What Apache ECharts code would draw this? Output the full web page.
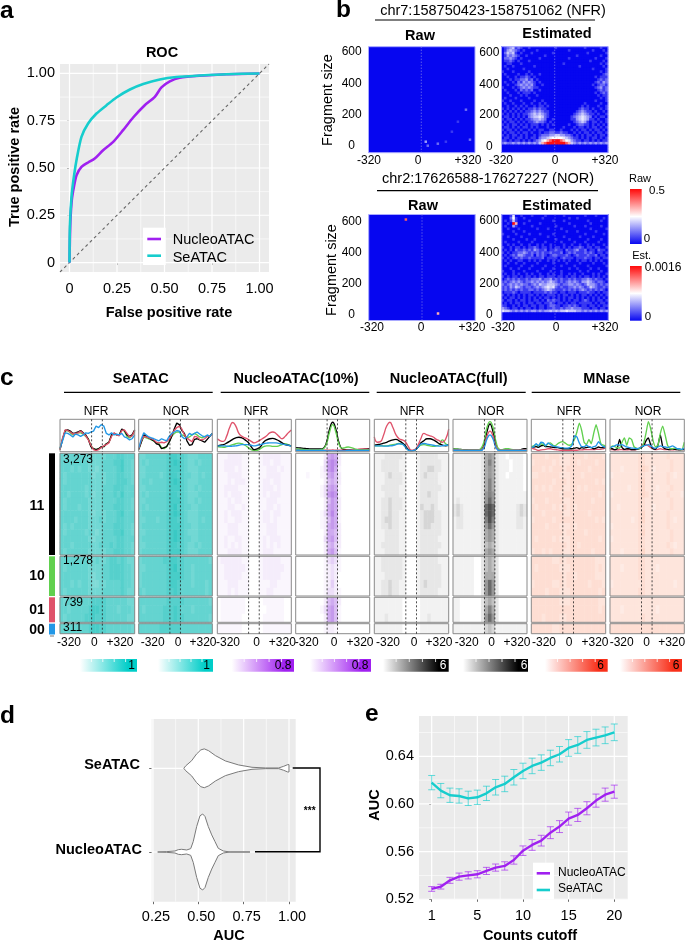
<!DOCTYPE html>
<html><head><meta charset="utf-8">
<style>html,body{margin:0;padding:0;background:#fff}#c{width:685px;height:942px}</style>
<script src="https://cdn.jsdelivr.net/npm/echarts@6/dist/echarts.min.js"></script>
</head><body><div id="c"></div>
<script>
// ---------- panel a: ROC
const rocNucleoX=[0,.002,.005,.012,.023,.037,.063,.098,.133,.177,.23,.282,.335,.396,.449,.484,.528,.58,.686,.826,1];
const rocNucleoY=[0,.12,.224,.33,.40,.462,.506,.529,.55,.594,.638,.70,.767,.832,.876,.926,.958,.977,.988,.996,1];
const rocSeatacX=[0,.002,.0105,.023,.04,.063,.098,.142,.195,.247,.318,.388,.475,.563,.686,.826,1];
const rocSeatacY=[0,.189,.347,.453,.559,.665,.735,.788,.832,.873,.915,.944,.968,.981,.989,.996,1];
const rocTicks=[0,.25,.5,.75,1];
// ---------- panel b: levels 0-9 (0 blue, 6 white, 9 red); rows run top to bottom
const estNfr=[
"0123412100100000000010000000000100000100","0134321010000100000000000100000000100010","0243410100010000000100000000000010000001",
"0132321001000000100000000000100000000100","0223210100000010000000000100000000010001","0112101000100000000000000000000001000010",
"0011000100000000000000010000000000000101","0100100000001000000000000000010000000010","0010000010000000000000000000000000100001",
"1000100000100000000000000000000000000101","0100001001010010000000000000000000000012","0010010112101000000000000000000000010111",
"0001011223120100000000000000000000001212","0100102132321010000000000000000000012132","0010012323231001000000000000000000101221",
"1000101232321100000000000000000000012312","0100010212120010000000000000000000001212","0010001011101000000000000000000000010121",
"0001000101000100000000000000000000001011","0100010000100000000000000000000000000101","1001000100001001000000000000000000010001",
"0100100010010010100000000000000100000100","0010010101001011010000000000001010001001","1010101010112121100000000000012110100101",
"0101010101123232110000000000123211010010","1010101011234343210000000001234321101001","0110101010234454210000000012345432010110",
"1011010101123343200100000011345431101001","0101101010112322101000000001234310110101","1010110101011101010100000100122110101010",
"0110101011010100010000010001011010110101","1011010100101011001100100010101101011010","0101101011010010112211211001010110101101",
"1010110101001012223344332210101011010110","0110101101011023345666654321101010110101","1101011010101235678999876532110110101011",
"2322323232323247899999998743232323232323","0000000000000000000000000000000000000000","0000000000000000000000000000000000000000","0000000000000000000000000000000000000000"];
const estNor=[
"0001500100010000100000010000000100010000","0002610010000001000000000100100000000010","0101410000100000000100010000000010000100",
"0010970010000010000000000100000001000000","0100310000010000000010000001000100000100","0010001000000100010000100000000001000001",
"0000100010000000000000001000100000010000","1000010000100010000100000000000100000010","0010000100000000010000010000010000100000",
"0000100001001000000010000100000010000100","0100001000010000100000100001000100001000","0010100100100101001000010010010010100010",
"1001011010112101101011010101121011011001","0101021121213211201121102112311201102110","1010112232121212112111201212111212101101",
"0101213321120212101221112101211121120110","1010121211211112011110121110111211011011","0101001100101010010101010100101101010100",
"0010010010000100000100001000010000100010","0100000100010000100000100001000010000001","0001001000100001000100000100100001001000",
"1000100010000100001000100000010010000100","0100101001010010010100100101001000101001","1010110101101011011101101011010110101010",
"0121212112122231223121211212112232121101","1212323212232323234321212323213343212210","2123232322123243344432122332321243321212",
"1213243212212323454521211223232124321121","1212121211221212343211121212123212121210","0111210111101111212110110111011121101011",
"1010101010110101011101011010101101010101","0101101010101010110101010110101010101010","1011010110101101021211010101101210101101",
"0101011010110110112101101011011111010110","1100101011011011012211011212101101101011","3210110101101011011211212232221110110110",
"5443232323233232334343445444332323232323","0000000000000000000000000000000000000000","0000000000000000000000000000000000000000","0000000000000000000000000000000000000000"];
const rawNfr=[[48,31,2],[44,37,1],[41,42,1],[50,46,2],[28,47,3],[29,49,2],[34,48,2],[38,47,1]];
const rawNor=[[18,2,8],[34,49,7]];
const fragTicks=[600,400,200,0];
const posTicks=["-320","0","+320"];
// ---------- panel c profiles
const prof1=[[5,40,70,72,68,60,62,65,70,62,55,40,15,8,5,8,15,15,25,30,55,60,55,55,75,70,55,50,55,72],
[5,45,72,70,65,58,60,62,68,60,52,38,20,5,2,5,12,18,22,28,50,62,55,52,70,72,60,48,52,70],
[8,42,68,70,62,55,60,62,62,58,50,42,18,8,5,8,15,15,25,30,52,60,56,55,72,68,50,45,52,68],
[10,35,62,60,55,48,58,55,50,55,62,60,65,68,85,80,90,85,60,55,62,55,58,55,60,48,45,38,42,55]];
const prof2=[[5,30,55,50,45,40,35,25,22,8,12,15,30,50,75,95,90,70,60,35,20,22,40,42,38,35,30,40,50,60],
[8,35,50,48,45,42,38,30,28,30,28,32,40,55,70,80,85,75,55,45,38,32,50,48,40,38,42,50,52,55],
[6,30,48,45,42,38,34,28,25,12,8,15,32,50,60,65,65,55,52,45,48,55,60,55,48,45,50,52,50,58],
[10,40,62,55,48,45,42,38,35,42,38,35,50,60,65,70,68,50,42,48,60,55,60,65,58,52,48,55,50,60]];
const prof3=[[18,20,22,27,33,40,45,47,45,38,30,15,5,8,15,30,38,42,43,40,35,28,22,20,18],
[42,35,33,50,80,97,85,60,50,45,40,33,28,32,38,45,52,62,65,60,50,42,50,62,72],
[15,14,13,15,18,22,25,27,25,20,12,5,2,3,8,15,18,18,16,16,18,22,25,22,16],
[18,18,18,17,16,17,18,20,22,22,22,20,18,20,22,25,27,28,28,28,26,24,22,20,16]];
const prof4=[[12,11,10,9,8,7,7,7,7,10,30,75,98,75,30,8,5,4,4,4,4,5,7,8,8],
[5,5,4,4,3,3,3,3,3,3,3,3,4,3,3,3,3,3,4,5,6,7,7,7,6],
[8,7,6,5,4,4,4,4,5,8,25,65,90,65,25,10,12,14,12,8,5,4,4,4,5],
[3,3,2,2,2,2,2,2,2,2,1,1,1,1,1,1,1,2,2,2,2,2,2,2,3]];
const prof5=[[20,22,24,27,30,35,38,40,35,28,18,5,1,3,12,28,35,42,42,38,32,25,20,18,22],
[48,30,32,55,85,98,80,55,42,38,32,15,3,5,18,42,60,55,52,48,40,35,30,40,75],
[18,18,18,18,18,20,22,24,26,24,15,4,1,3,12,20,22,20,18,16,18,22,38,25,18],
[18,18,18,17,17,18,19,22,25,24,14,3,1,3,12,24,26,24,22,20,18,17,18,20,20]];
const prof6=[[8,7,6,5,5,4,4,4,4,5,20,65,92,65,20,5,3,3,3,3,3,3,5,8,8],
[4,4,4,3,3,3,3,3,3,3,15,50,68,50,15,3,3,3,3,3,3,3,3,4,4],
[7,7,6,5,4,4,4,4,4,8,30,80,100,80,30,6,5,8,8,6,4,3,3,4,6],
[3,3,3,2,2,2,2,2,2,2,10,40,55,40,10,2,2,2,2,2,2,2,2,2,3]];
const prof7=[[14,14,15,13,18,20,15,15,14,13,12,12,10,8,8,8,8,8,10,12,8,12,10,12,14,12,8,10,14,12,12,14],
[10,8,5,2,4,5,6,8,8,6,5,4,3,2,2,2,2,2,3,3,4,4,5,5,5,5,5,6,6,6,8,10],
[15,18,22,18,25,22,18,25,28,20,18,25,30,32,28,22,20,25,40,65,95,70,30,22,40,25,60,90,60,25,20,18],
[12,15,25,18,30,28,18,28,22,18,15,14,12,12,10,10,12,20,52,48,28,15,15,20,15,12,15,18,32,22,15,12]];
const prof8=[[10,8,5,8,40,12,6,8,8,5,5,6,8,12,18,35,45,20,8,6,20,55,15,8,6,5,8,6,5,4,5,6],
[5,5,4,4,5,5,4,4,5,4,4,5,8,15,25,22,18,12,8,5,6,8,6,5,5,5,4,5,5,6,5,5],
[8,18,15,12,10,30,45,20,45,40,15,10,8,12,25,60,100,75,35,15,20,60,85,55,20,8,8,10,8,6,5,30],
[12,15,18,22,20,22,18,14,12,10,10,8,10,14,18,20,22,18,12,10,14,18,15,14,12,14,18,14,8,8,6,10]];
// ---------- panel c heat levels: 25 rows (11:16, 10:5, 01:3, 00:1) x 21 columns
const heat1=["656666665555566677666","666666665555666778665","666565665545666678665","656666666455566677665","656666666555566677765","666666656555666777666","665666656455666768666","656666665555666677665","656665665555666777665","666666665455566678666","666656665556566677666","656566665555666777665","656666656545666778665","666666665455666677666","666566666556667677665","656666665555566777665",
"666666665565567767655","656666665555667777665","666666665455667777665","666565665445566667665","656666665555666667655","656666666777766666655","665666667887766656665","656666677877766666655","666666667887766666665"];
const heat2=["556666667887765556666","565666667898765565666","556666667888765556666","556666567887766556566","566566667898765556666","556666667888765565666","565666667887765556666","556666667888765565666","565666667897766556666","566666667898765556666","556665667887765556566","566666667888766556666","556666667898765556666","566666667898766556666","556666667887765565666","566666667888765556666",
"566666677887766666665","556666667897766566666","566666667888766566666","566666667887666566656","656666667787666666656","666666667777766666665","656666677787666566666","666666677787766666665","666666777777666666666"];
const heat3=["111222211000122222111","112222211000122122111","112221211000112221211","111222211000112222111","111212221000122122111","112222111000122212111","112122211000121222111","111212211000112221111","111221121000112212111","112122211000122122111","112112211000122121111","111222111000112221111","111222111000112221111","112112211000121222111","112121211000121212111","111222211000122211111",
"122222211000122222111","112222221000122222211","112222211000122222111","111222111000111221111","111212111000112211111","011111110000011111100","011111110000001111100","011111100000011111100","111111100000011111111"];
const heat4=["000000002676200000000","000000003787200000000","000000013786100000000","000100012675200000000","000000002565200000000","000000013676100000000","000000013787100000000","000000002576200000000","000000002676200000000","000000013686100000000","000000012576100000000","000000012676200000000","000000002665200000000","000000003675200000000","000000002564200000000","000000002675100000000",
"000000001343100000000","000000001232100000000","000000001232000000000","000000001242000000000","000000001332100000000","000000002565200000000","000000013675100000000","000000002675100000000","000000001221000000000"];
const heat5=["111222221000122222111","112222211000122222211","112222211000122332211","111232221000123222111","111222221000122222111","112222211000122222211","111222211000122322111","112232221000122222111","112232221000132232111","112232211000123332211","112332211000123332211","112232211000123322211","111222211000122222211","111222211000122222111","112222211000122222211","111222211000122222111",
"112222221000122222111","112222221000122222211","111222221000122222211","112232211000123222211","112232211000122222111","111111110000011111111","111111110000011111111","111211110000011211111","111111110000011111111"];
const heat6=["111111112565211011110","111111112575211101110","111111112565211101110","111111112565211011110","111111112575211111110","111111112575211111110","111111112676211111111","121111112686211111111","232111112898211111232","232111112898211111232","122111112797211111221","122111112686211111221","111111112565211111111","111111112565211111111","111111112454211111111","111111112565211111111",
"111111002454200000000","111111002454200000000","111111002555200000000","111111002686200000000","111111002686200000000","110000002454200000000","110000002575200000000","110000002686200000000","111111111343111111111"];
const heat7=["555545554445555455554","455555454445545555455","555454555455555545555","445555554445554555555","555555455545555555454","545454555445545455555","555555554555555555545","455545555445555554555","545555454545455555555","555455555445555545555","455555455555555555454","555545554445455555555","555555555455555455555","545555454445555555545","555555555545545555555","455454555445555554555",
"555555445455555555444","545555554445555555454","555555555455455555444","455555445455555545554","555545554445555555545","555555554445555555544","555555555555555555545","555455554455555555555","555555445555555555555"];
const heat8=["444444445544444454444","444444445544444445444","444344445654344445444","344444445544444454344","444444445644444454444","444443445644434445444","344444445654444454443","444444445544444445444","443444445544344445444","444444445644444454444","444444345644444454344","344444445544444454444","444444445644444445444","344444445544444445444","444444445544444454344","444344445644444445444",
"444444445544444444444","444344445544434444444","444444445544444444444","344444444544444444344","444444445544444444444","444444444444444444444","444344444444434444444","444444444544444444444","555555555555555555555"];
const clusterNames=["11","10","01","00"];
const clusterCounts=["3,273","1,278","739","311"];
const clusterRows=[16,5,3,1];
const groupNames=["SeATAC","NucleoATAC(10%)","NucleoATAC(full)","MNase"];
const panelKinds=["NFR","NOR","NFR","NOR","NFR","NOR","NFR","NOR"];
const barMaxLabels=["1","1","0.8","0.8","6","6","6","6"];
// ---------- panel d: violin outlines (AUC, half width)
const violinSeX=[.42,.431,.463,.49,.514,.533,.557,.594,.649,.722,.796,.87,.943,.971,.993,1];
const violinSeW=[0,.03,.09,.17,.22,.232,.21,.152,.088,.04,.012,.004,.004,.024,.044,.044];
const violinNuX=[.276,.325,.371,.39,.408,.436,.458,.472,.491,.509,.524,.537,.555,.574,.592,.61,.638,.675,.785];
const violinNuW=[0,.004,.012,.028,.032,.024,.04,.124,.304,.432,.454,.424,.304,.204,.124,.044,.012,0,0];
const dCats=["NucleoATAC","SeATAC"];
const dTicks=[.25,.5,.75,1];
// ---------- panel e
const eSeatac=[.6179,.6112,.6073,.6067,.6047,.6056,.6089,.6140,.6168,.6224,.6277,.6319,.6347,.6386,.6417,.6470,.6495,.6537,.6557,.6576,.6601];
const eSeatacErr=[.006,.006,.006,.006,.006,.006,.006,.0065,.0065,.0065,.0065,.0065,.0065,.0065,.0065,.007,.007,.007,.007,.007,.007];
const eNucleo=[.5287,.5306,.5359,.5390,.5401,.5410,.5438,.5466,.5480,.5530,.5608,.5656,.5692,.5759,.5810,.5877,.5908,.5964,.6028,.6078,.6103];
const eNucleoErr=[.002,.002,.0025,.003,.003,.003,.003,.003,.0035,.0035,.004,.0045,.0045,.005,.005,.0055,.0055,.0055,.0055,.0055,.0055];
const ePos=[0,5,10,15,20];
const eLabels=["1","5","10","15","20"];
const eYTicks=[.52,.56,.60,.64];

const FONT="'Liberation Sans',Arial,sans-serif";
const PURPLE='#A020F0',TEAL='#16CDCD',BG='#EBEBEB';
const grid=[],xAxis=[],yAxis=[],series=[],graphic=[];
const ramps={teal:[],purple:[],gray:[],red:[],bwr:[]};
function addGrid(l,t,r,b){grid.push({left:l,top:t,width:r-l,height:b-t,containLabel:false,show:false});return grid.length-1;}
function txt(x,y,text,size,o={}){graphic.push({type:'text',x,y,rotation:o.rot||0,z:100,silent:true,
  style:{text,fill:o.fill||'#000',align:o.align||'center',verticalAlign:'middle',font:`${o.bold?'bold ':''}${size}px ${FONT}`}});}
function line(x1,y1,x2,y2,stroke,w,dash){graphic.push({type:'line',z:90,silent:true,shape:{x1,y1,x2,y2},style:{stroke,lineWidth:w,lineDash:dash||null}});}
function frame(l,t,r,b,stroke,w){graphic.push({type:'rect',z:80,silent:true,shape:{x:l,y:t,width:r-l,height:b-t},style:{fill:'none',stroke,lineWidth:w}});}
function bandRect(l,t,r,b,fill,z){graphic.push({type:'rect',z:z||85,silent:true,shape:{x:l,y:t,width:r-l,height:b-t},style:{fill}});}

// ggplot panel background + grid lines, drawn through the axis scales
function ggGrid(g,xr,yr,xMaj,xMin,yMaj,yMin,bg){
  const d=[];
  xMin.forEach(v=>d.push([v,yr[0],0,.6]));yMin.forEach(v=>d.push([xr[0],v,1,.6]));
  xMaj.forEach(v=>d.push([v,yr[0],0,1.2]));yMaj.forEach(v=>d.push([xr[0],v,1,1.2]));
  grid[g].show=true;grid[g].backgroundColor=bg||BG;grid[g].borderWidth=0;
  series.push({type:'custom',xAxisIndex:g,yAxisIndex:g,silent:true,z:1,clip:true,data:d,
    encode:{x:0,y:1},
    renderItem(p,api){const a=api.value(2),v=a?api.value(1):api.value(0);
      const s=a?api.coord([xr[0],v]):api.coord([v,yr[0]]),e=a?api.coord([xr[1],v]):api.coord([v,yr[1]]);
      return {type:'line',shape:{x1:s[0],y1:s[1],x2:e[0],y2:e[1]},style:{stroke:'#fff',lineWidth:api.value(3)}};}});
}
function valAxis(g,min,max,ticks,fmt,pos,extra){
  return {gridIndex:g,type:'value',min,max,position:pos,axisLine:{show:false},splitLine:{show:false},
    axisTick:{show:true,length:2.5,customValues:ticks,lineStyle:{color:'#444',width:.8}},
    axisLabel:Object.assign({show:true,customValues:ticks,formatter:fmt,color:'#000',fontSize:14.5,fontFamily:FONT,margin:5,hideOverlap:false},(extra||{}))};
}
const zip=(a,b)=>a.map((v,i)=>[v,b[i]]);

// ---------- a
{const g=addGrid(60,64,269,272),f=v=>v===0?'0':(+v).toFixed(2);
 xAxis.push(valAxis(g,-.05,1.05,rocTicks,f,'bottom',{margin:9}));
 yAxis.push(valAxis(g,-.05,1.05,rocTicks,f,'left'));
 const mins=[.125,.375,.625,.875];
 ggGrid(g,[-.05,1.05],[-.05,1.05],rocTicks,mins,rocTicks,mins);
 series.push({type:'line',name:'chance',xAxisIndex:g,yAxisIndex:g,z:4,symbol:'none',silent:true,data:[[-.05,-.05],[1.05,1.05]],lineStyle:{color:'#666',width:1.1,type:[3,3]}});
 series.push({type:'line',name:'NucleoATAC',xAxisIndex:g,yAxisIndex:g,z:5,symbol:'none',smooth:.25,data:zip(rocNucleoX,rocNucleoY),lineStyle:{color:PURPLE,width:2.6}});
 series.push({type:'line',name:'SeATAC',xAxisIndex:g,yAxisIndex:g,z:6,symbol:'none',smooth:.25,data:zip(rocSeatacX,rocSeatacY),lineStyle:{color:TEAL,width:2.6}});
 txt(162,53,'ROC',14.5,{bold:1});txt(169,313,'False positive rate',14.5,{bold:1});
 txt(14.5,167,'True positive rate',14.5,{bold:1,rot:Math.PI/2});
 bandRect(143,227.7,165.7,265,'#fff');
 line(147.3,239,161,239,PURPLE,2.6);line(147.3,255.7,161,255.7,TEAL,2.6);
 txt(172.7,239.5,'NucleoATAC',14.5,{align:'left'});txt(172.7,257.5,'SeATAC',14.5,{align:'left'});
 txt(0,11.6,'a',24.5,{bold:1,align:'left'});
}
// ---------- b
function heat(l,t,r,b,cols,rows,data,ramp,bg){
  const g=addGrid(l,t,r,b);
  if(bg){grid[g].show=true;grid[g].backgroundColor=bg;grid[g].borderWidth=0;}
  const cat=n=>Array.from({length:n},(_,i)=>i);
  xAxis.push({gridIndex:g,type:'category',data:cat(cols),show:false,boundaryGap:true});
  yAxis.push({gridIndex:g,type:'category',data:cat(rows),show:false,inverse:true,boundaryGap:true});
  ramps[ramp].push(series.length);
  series.push({type:'heatmap',xAxisIndex:g,yAxisIndex:g,data,progressive:0,silent:true,z:3,emphasis:{disabled:true},itemStyle:{borderWidth:0}});
  return g;
}
const cells=rows=>rows.flatMap((s,r)=>[...s].map((c,x)=>[x,r,+c]));
function bPanel(l,t,data,cols,rows,zeroX,labelXs){
  const r=l+106.5,b=t+106;
  heat(l,t,r,b,cols,rows,data,'bwr','#0606F0');
  frame(l,t,r,b,'#a9a9ff',1);
  line(zeroX,t,zeroX,b,'#8f8fe6',.9,[1,2]);
  posTicks.forEach((s,i)=>txt(labelXs[i],b+7.5,s,12));
}
bPanel(368.5,46.7,rawNfr,53,53,421.3,[369,418,468]);
bPanel(501.5,46.7,cells(estNfr),40,40,554.7,[501,555,605]);
bPanel(368.7,214.5,rawNor,53,53,422,[372,421,472]);
bPanel(501.8,214.5,cells(estNor),40,40,555,[503,556,605]);
[[351.7,[52,84,115,146]],[489.3,[52.5,84.5,115,146.5]],[351.7,[222,253,284,315]],[489.3,[221,253,284,315]]]
 .forEach(([x,ys])=>fragTicks.forEach((v,i)=>txt(x,ys[i],String(v),12)));
txt(493,11,'chr7:158750423-158751062 (NFR)',14.5);line(375,20,595,20,'#000',1.2);
txt(488,179,'chr2:17626588-17627227 (NOR)',14.5);line(377,190.7,598,190.7,'#000',1.2);
txt(420,35.5,'Raw',14.5,{bold:1});txt(557,33.5,'Estimated',14.5,{bold:1});
txt(423,206,'Raw',14.5,{bold:1});txt(557,206,'Estimated',14.5,{bold:1});
txt(328,100,'Fragment size',14.5,{rot:Math.PI/2});txt(332,270,'Fragment size',14.5,{rot:Math.PI/2});
txt(336,10.6,'b',24.5,{bold:1,align:'left'});
function vbar(x0,y0,x1,y1,stops){graphic.push({type:'rect',z:80,silent:true,shape:{x:x0,y:y0,width:x1-x0,height:y1-y0},
  style:{fill:{type:'linear',x:0,y:1,x2:0,y2:0,colorStops:stops}}});}
vbar(630,189,641.7,244,[{offset:0,color:'#0808F0'},{offset:.5,color:'#fff'},{offset:1,color:'#FF0A0A'}]);
vbar(630,266,641.7,320.7,[{offset:0,color:'#0808F0'},{offset:.5,color:'#fff'},{offset:1,color:'#FF0A0A'}]);
txt(640,179,'Raw',11);txt(657,191,'0.5',11.5);txt(647,239,'0',11.5);
txt(641.7,256,'Est.',11);txt(663,268,'0.0016',12);txt(648,317,'0',11.5);
// ---------- c
const panelL=[60,138.7,217.3,295.7,374.3,453,531.3,610];
const panelR=[134.7,212.3,291.3,369.7,448.7,527,605.7,684.3];
const blockT=[453.3,556.3,597.3,623.7],blockB=[555,596,622.3,633.7];
const panelLines=[prof1,prof2,prof3,prof4,prof5,prof6,prof7,prof8];
const panelHeat=[heat1,heat2,heat3,heat4,heat5,heat6,heat7,heat8];
const panelRamp=['teal','teal','purple','purple','gray','gray','red','red'];
const panelSmooth=[0,0,.5,.5,.5,.5,.15,.15];
const lineCols=['#000','#DF536B','#61D04F','#2297E6'];
const lineZ=[[4,5,3,6],[4,5,3,6],[4,5,3,6],[3,4,5,6],[4,5,3,6],[3,5,4,6],[4,3,5,6],[4,3,5,6]];
const tickOff=[[69,94.3,120],[152.7,178,203],[228,256.7,282.3],[306.7,334,360],[388,414,439],[466.7,491.7,517],[544,569,595],[621.7,646.7,671.7]];
const kindX=[96,176,256,335,412,491,569,648];
panelL.forEach((l,i)=>{
  const r=panelR[i],w=r-l,d1=l+.424*w,d2=l+.566*w;
  const g=addGrid(l,419.3,r,451.7),n=panelLines[i][0].length;
  xAxis.push({gridIndex:g,type:'value',min:0,max:n-1,show:false});
  yAxis.push({gridIndex:g,type:'value',min:-2,max:108,show:false});
  panelLines[i].forEach((vals,k)=>series.push({type:'line',xAxisIndex:g,yAxisIndex:g,symbol:'none',silent:true,z:lineZ[i][k],smooth:panelSmooth[i],
    data:vals.map((v,x)=>[x,v]),lineStyle:{color:lineCols[k],width:1.35}}));
  frame(l,419.3,r,451.7,'#8a8a8a',1);
  line(d1,419.3,d1,451.7,'#222',.8,[2,2]);line(d2,419.3,d2,451.7,'#222',.8,[2,2]);
  txt(kindX[i],411.7,panelKinds[i],12);
  let start=0;
  clusterRows.forEach((rows,b)=>{
    const sub=panelHeat[i].slice(start,start+rows);start+=rows;
    heat(l,blockT[b],r,blockB[b],21,rows,cells(sub),panelRamp[i]);
    frame(l,blockT[b],r,blockB[b],'#8a8a8a',1);
    line(d1,blockT[b],d1,blockB[b],'#222',.8,[2,2]);line(d2,blockT[b],d2,blockB[b],'#222',.8,[2,2]);
  });
  posTicks.forEach((s,k)=>txt(tickOff[i][k],643,s,12));
});
const countY=[460,561,603,627.7],labY=[505.7,575.7,610,630],sideCols=['#000','#61D04F','#DF536B','#2297E6'];
clusterNames.forEach((s,i)=>{
  txt(37,labY[i],s,14,{bold:1});
  txt(63,countY[i],clusterCounts[i],12,{align:'left'});
  bandRect(49,blockT[i],55,i==3?634.5:blockB[i],sideCols[i]);
});
line(50,636,54,636,'#777',1);
const headC=[140.7,296,448.7,606.7],headL=[[64,212.7],[220.7,369.3],[376.7,525.7],[531.7,680.3]];
groupNames.forEach((s,i)=>{txt(headC[i],379,s,14.5,{bold:1});line(headL[i][0],392.3,headL[i][1],392.3,'#000',1.3);});
txt(0,378,'c',24.5,{bold:1,align:'left'});
// colour keys
const barL=[80,158,231.7,310,383,463,545,620],barR=[137,213,294,371,448.7,528,607.7,682];
const barTop=['#00CDC8','#00CDC8','#A020F0','#A020F0','#000000','#000000','#F8301A','#F8301A'];
const barTextX=[131.7,206.7,283,360,443,524,600.7,676];
barL.forEach((l,i)=>{
  const r=barR[i];
  graphic.push({type:'rect',z:80,silent:true,shape:{x:l,y:659,width:r-l,height:12.7},
    style:{fill:{type:'linear',x:0,y:0,x2:1,y2:0,colorStops:[{offset:0,color:'#fff'},{offset:.85,color:barTop[i]},{offset:1,color:barTop[i]}]}}});
  for(let k=1;k<5;k++){const x=l+(r-l)*k/5;line(x,659,x,662,'#fff',.8);}
  txt(barTextX[i],665.5,barMaxLabels[i],12,{fill:(i==4||i==5)?'#fff':'#000'});
});
// ---------- d
{const g=addGrid(151.7,719,295.7,901.7);
 xAxis.push(valAxis(g,.243,1.037,dTicks,v=>(+v).toFixed(2),'bottom',{margin:8,padding:[0,0,0,6]}));
 yAxis.push(valAxis(g,.406,2.589,[1,2],()=>'','left',{show:false}));
 ggGrid(g,[.243,1.037],[.406,2.589],dTicks,[.375,.625,.875],[1,2],[]);
 const violin=(name,cy,xs,ws)=>series.push({type:'custom',name,xAxisIndex:g,yAxisIndex:g,silent:true,z:5,clip:false,
   data:[[xs[0],cy]],encode:{x:0,y:1},
   renderItem(p,api){
     const up=xs.map((x,i)=>api.coord([x,cy+ws[i]])),dn=xs.map((x,i)=>api.coord([x,cy-ws[i]])).reverse();
     return {type:'polygon',shape:{points:up.concat(dn)},style:{fill:'#fff',stroke:'#7a7a7a',lineWidth:1}};}});
 violin('SeATAC',2,violinSeX,violinSeW);violin('NucleoATAC',1,violinNuX,violinNuW);
 txt(140,765,dCats[1],14.5,{bold:1,align:'right'});txt(142,850,dCats[0],14.5,{bold:1,align:'right'});
 graphic.push({type:'polyline',z:90,silent:true,shape:{points:[[292.7,768],[320,768],[320,851.7],[255,851.7]]},style:{stroke:'#000',lineWidth:1.4,fill:'none'}});
 txt(309.7,811,'***',10,{bold:1});
 txt(229,935.5,'AUC',14.5,{bold:1});
 txt(0,716.6,'d',24.5,{bold:1,align:'left'});
}
// ---------- e
{const g=addGrid(419,716,627.7,899.3),xr=[-1.39,21.47],yr=[.52,.6738];
 xAxis.push(valAxis(g,xr[0],xr[1],ePos,v=>eLabels[ePos.indexOf(+v)],'bottom',{margin:9}));
 yAxis.push(valAxis(g,yr[0],yr[1],eYTicks,v=>(+v).toFixed(2),'left'));
 ggGrid(g,xr,yr,ePos,[2.5,7.5,12.5,17.5],eYTicks,[.54,.58,.62,.66]);
 const err=(name,vals,errs,col)=>series.push({type:'custom',name:name+' error',xAxisIndex:g,yAxisIndex:g,silent:true,z:4,
   data:vals.map((v,i)=>[i,v,errs[i]]),encode:{x:0,y:1},
   renderItem(p,api){const x=api.value(0),v=api.value(1),e=api.value(2);
     const a=api.coord([x,v-e]),b=api.coord([x,v+e]),s={stroke:col,lineWidth:1,opacity:.65};
     const ln=(x1,y1,x2,y2)=>({type:'line',shape:{x1,y1,x2,y2},style:s});
     return {type:'group',children:[ln(a[0],a[1],b[0],b[1]),ln(a[0]-3.5,a[1],a[0]+3.5,a[1]),ln(b[0]-3.5,b[1],b[0]+3.5,b[1])]};}});
 err('SeATAC',eSeatac,eSeatacErr,TEAL);err('NucleoATAC',eNucleo,eNucleoErr,PURPLE);
 series.push({type:'line',name:'SeATAC',xAxisIndex:g,yAxisIndex:g,z:5,symbol:'none',silent:true,data:eSeatac.map((v,i)=>[i,v]),lineStyle:{color:TEAL,width:2.4}});
 series.push({type:'line',name:'NucleoATAC',xAxisIndex:g,yAxisIndex:g,z:5,symbol:'none',silent:true,data:eNucleo.map((v,i)=>[i,v]),lineStyle:{color:PURPLE,width:2.4}});
 txt(375,805,'AUC',14.5,{bold:1,rot:Math.PI/2});
 txt(530,935.5,'Counts cutoff',14.5,{bold:1});
 bandRect(533,862.7,554,899.3,'#fff');
 line(536.7,873.3,550,873.3,PURPLE,2.6);line(536.7,890,550,890,TEAL,2.6);
 txt(558,873,'NucleoATAC',12,{align:'left'});txt(558,888.5,'SeATAC',12,{align:'left'});
 txt(365,714.6,'e',24.5,{bold:1,align:'left'});
}
const vm=(idx,color)=>({type:'continuous',show:false,min:0,max:9,dimension:2,seriesIndex:idx,inRange:{color}});
const chart=echarts.init(document.getElementById('c'),null,{renderer:'canvas',width:685,height:942});
chart.setOption({animation:false,backgroundColor:'#fff',grid,xAxis,yAxis,series,graphic:{elements:graphic},
 visualMap:[vm(ramps.bwr,['#0606F0','#3A3AF2','#6C6CF5','#9C9CF8','#C8C8FB','#E8E8FD','#FFFFFF','#FFB0B0','#FF6060','#FF1010']),
  vm(ramps.teal,['#B8EAE7','#3AC9C4']),
  vm(ramps.purple,['#FFFFFF','#FAF6FD','#F5EDFB','#EDDFF9','#E4CFF6','#DABDF3','#CFABF0','#C59AEC','#BA88E8','#AE76E4']),
  vm(ramps.gray,['#FFFFFF','#F2F2F2','#E7E7E7','#D6D6D6','#C2C2C2','#ACACAC','#989898','#828282','#6A6A6A','#505050']),
  vm(ramps.red,['#FFFFFF','#FDC4B0'])]});
</script></body></html>
